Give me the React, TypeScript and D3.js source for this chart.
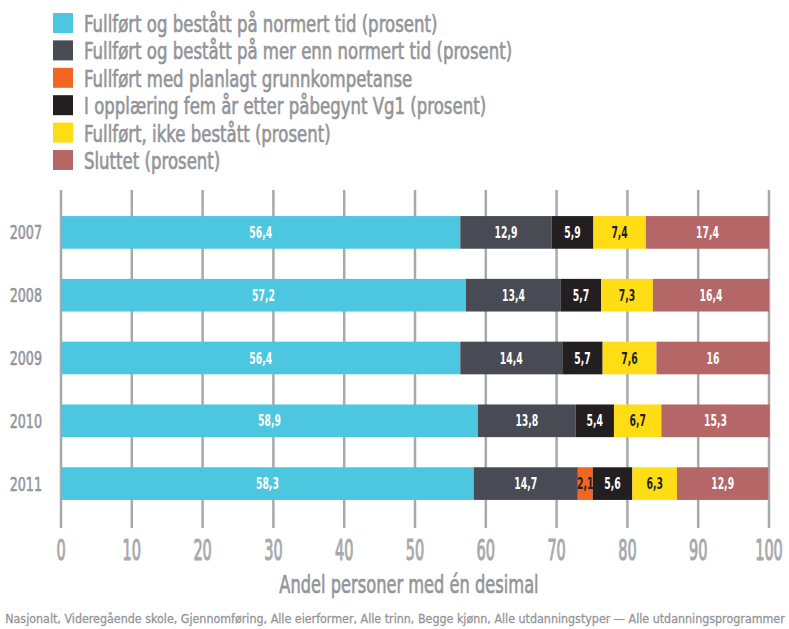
import React from "react";
import * as d3 from "d3";

const years = ["2007", "2008", "2009", "2010", "2011"];
const seriesNames = [
  "Fullført og bestått på normert tid (prosent)",
  "Fullført og bestått på mer enn normert tid (prosent)",
  "Fullført med planlagt grunnkompetanse",
  "I opplæring fem år etter påbegynt Vg1  (prosent)",
  "Fullført, ikke bestått (prosent)",
  "Sluttet (prosent)",
];
const normert = [56.4, 57.2, 56.4, 58.9, 58.3];
const merEnn = [12.9, 13.4, 14.4, 13.8, 14.7];
const planlagt = [0, 0, 0, 0, 2.1];
const iOpplaering = [5.9, 5.7, 5.7, 5.4, 5.6];
const ikkeBestatt = [7.4, 7.3, 7.6, 6.7, 6.3];
const sluttet = [17.4, 16.4, 16, 15.3, 12.9];
const xTicks = [0, 10, 20, 30, 40, 50, 60, 70, 80, 90, 100];

const colors = ["#4dc6df", "#484b53", "#f26522", "#231f20", "#ffdd15", "#b56666"];
const labelColors = ["#ffffff", "#ffffff", "#231f20", "#ffffff", "#231f20", "#ffffff"];
const gray = "#939598";
const FONT = "'DejaVu Sans', sans-serif";

function T(props: {
  x: number; y: number; sx: number; size: number; fill: string;
  anchor?: string; weight?: string; sw?: number; children: React.ReactNode;
}) {
  return (
    <text
      transform={`translate(${props.x},${props.y}) scale(${props.sx},1)`}
      textAnchor={props.anchor || "start"}
      fontSize={props.size}
      fontWeight={props.weight || "normal"}
      fill={props.fill}
      stroke={props.sw ? props.fill : "none"}
      strokeWidth={props.sw || 0}
    >
      {props.children}
    </text>
  );
}

export default function App() {
  const W = 789, H = 629;
  const x = d3.scaleLinear().domain([0, 100]).range([61, 769]);
  const y = d3.scaleBand().domain(years).range([201, 515]).paddingInner(0.48).paddingOuter(0.24);
  const seriesData = [normert, merEnn, planlagt, iOpplaering, ikkeBestatt, sluttet];
  const rows = years.map((yr, i) => {
    const o: any = { year: yr };
    seriesData.forEach((s, k) => (o["s" + k] = s[i]));
    return o;
  });
  const stack = d3.stack<any>().keys(seriesData.map((_, k) => "s" + k));
  const stacked = stack(rows);
  const fmt = (v: number) => String(v).replace(".", ",");

  return (
    <svg width={W} height={H} style={{ position: "absolute", left: 0, top: 0, background: "#fff" }} fontFamily={FONT}>
      {/* legend */}
      {seriesNames.map((n, k) => (
        <g key={n} transform={`translate(53, ${13 + k * 27.4})`}>
          <rect width={20} height={20} fill={colors[k]} />
          <T x={31} y={19} sx={0.72} size={23} fill={gray} sw={0.7}>{n}</T>
        </g>
      ))}
      {/* gridlines */}
      {xTicks.map((t) => (
        <line key={t} x1={x(t)} x2={x(t)} y1={190} y2={528} stroke="#a7a9ac" strokeWidth={2.5} />
      ))}
      {/* bars */}
      {stacked.map((layer, k) =>
        layer.map((d, i) => {
          const w = x(d[1]) - x(d[0]);
          if (w <= 0) return null;
          const yy = y(years[i])!;
          return (
            <g key={k + "-" + i}>
              <rect x={x(d[0])} y={yy} width={w} height={y.bandwidth()} fill={colors[k]} />
              <T
                x={(x(d[0]) + x(d[1])) / 2}
                y={yy + y.bandwidth() / 2 + 5.5}
                sx={0.62}
                anchor="middle"
                size={15}
                weight="bold"
                fill={labelColors[k]}
              >
                {fmt(seriesData[k][i])}
              </T>
            </g>
          );
        })
      )}
      {/* year labels */}
      {years.map((yr) => (
        <T key={yr} x={42} y={y(yr)! + y.bandwidth() / 2 + 7} sx={0.67} anchor="end" size={19} fill={gray} sw={0.6}>
          {yr}
        </T>
      ))}
      {/* x tick labels */}
      {xTicks.map((t) => (
        <T key={t} x={x(t)} y={560} sx={0.5} anchor="middle" size={29} fill="#a7a9ac" sw={1.2}>
          {t}
        </T>
      ))}
      <T x={409} y={593} sx={0.65} anchor="middle" size={25} fill={gray} sw={0.7}>
        Andel personer med én desimal
      </T>
      <T x={395} y={623} sx={0.89} anchor="middle" size={12.5} fill={gray} sw={0.3}>
        Nasjonalt, Videregående skole, Gjennomføring, Alle eierformer, Alle trinn, Begge kjønn, Alle utdanningstyper — Alle utdanningsprogrammer
      </T>
    </svg>
  );
}
